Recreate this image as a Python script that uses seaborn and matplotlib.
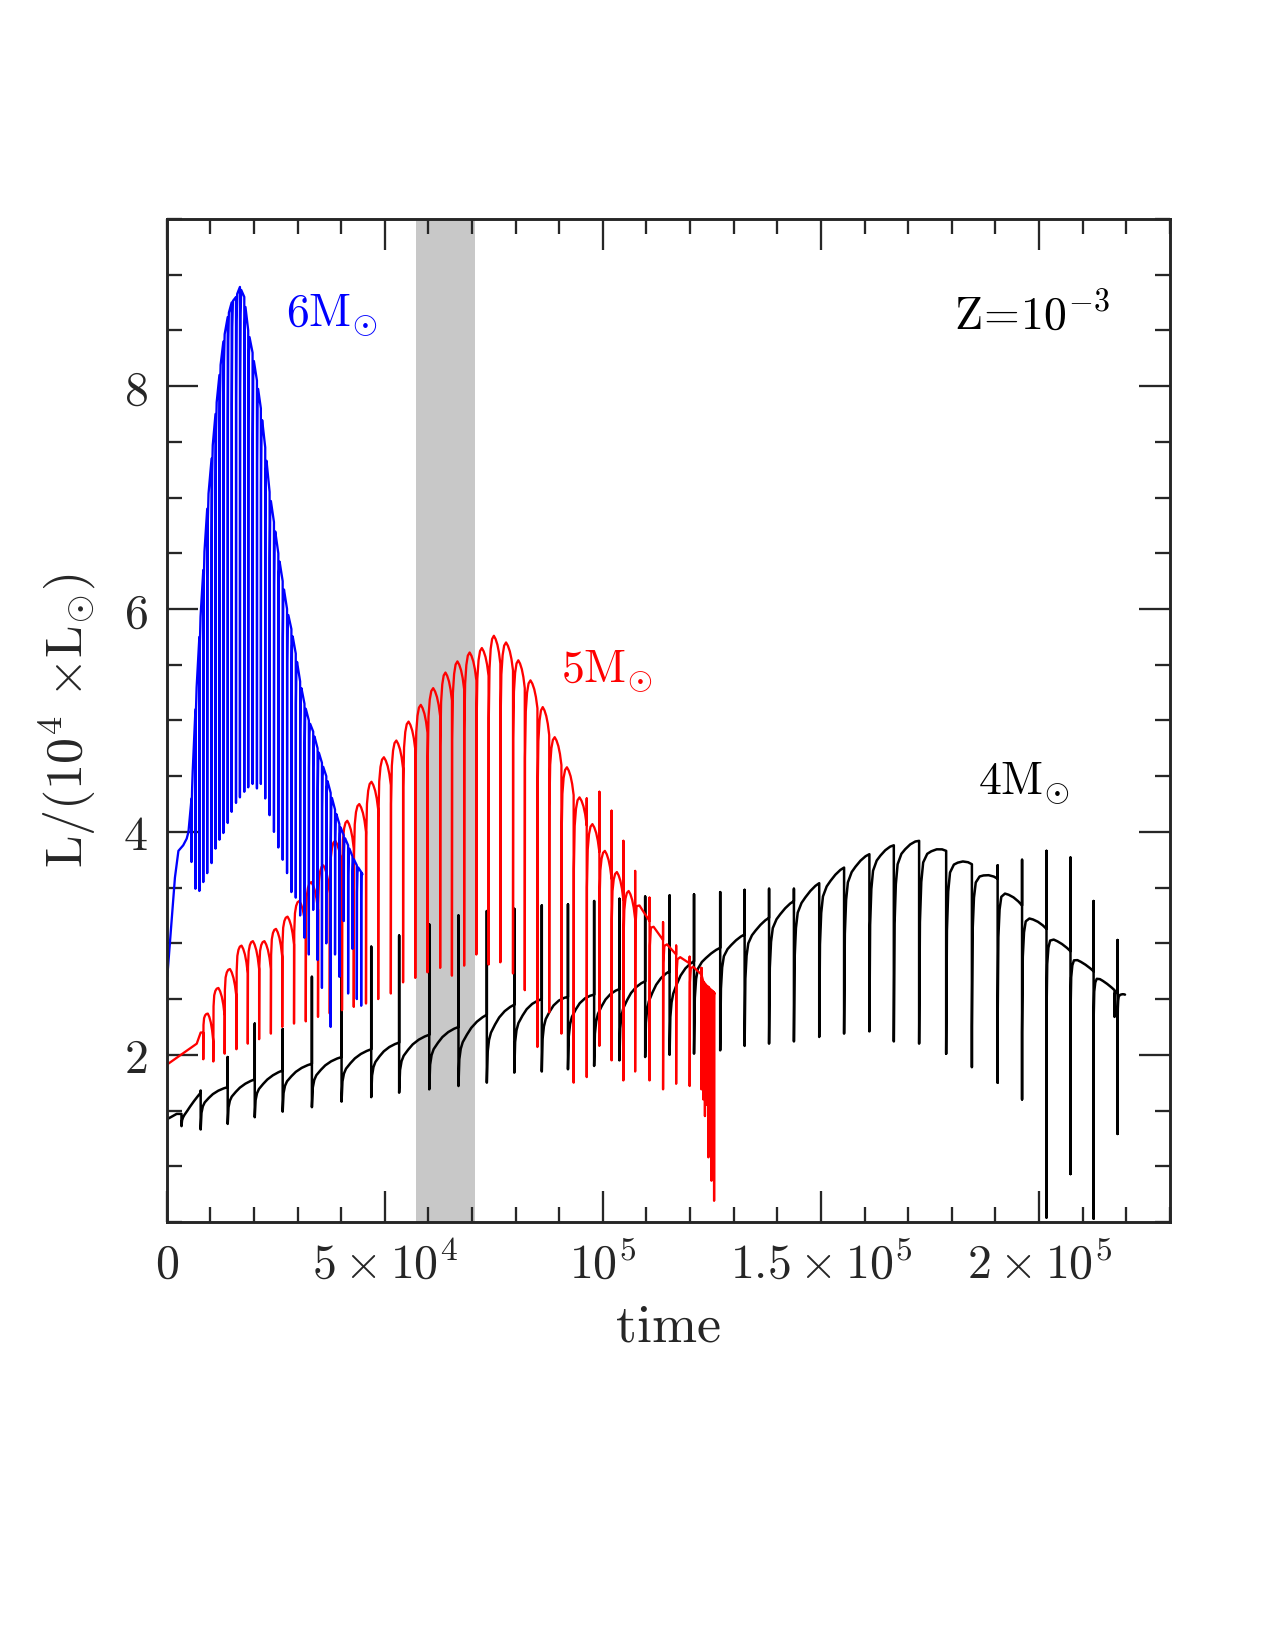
import numpy as np
import seaborn as sns
import matplotlib.pyplot as plt
from matplotlib.ticker import MultipleLocator

sns.set_style("ticks")
plt.rcParams["mathtext.fontset"] = "cm"
plt.rcParams["font.family"] = ["DejaVu Serif"]

nan = np.nan

# times in 10^3 yr, luminosity in 10^4 Lsun

# --- 6 Msun (blue) ---
blue_lead_t = [0.0, 0.0, 0.15, 1.9, 2.7, 3.8, 4.6, 5.0, 5.7]
blue_lead_L = [0.45, 2.70, 2.70, 3.59, 3.83, 3.88, 3.94, 4.00, 4.30]
blue_t = [5.7, 6.6, 7.5, 8.4, 9.3, 10.3, 11.2, 12.1, 13.0, 14.0, 14.9, 15.9, 16.8, 17.8,
          18.7, 19.7, 20.7, 21.6, 22.6, 23.6, 24.6, 25.6, 26.6, 27.6, 28.6, 29.6, 30.6,
          31.6, 32.6, 33.6, 34.6, 35.6, 36.6, 37.6, 38.6, 39.6, 40.6, 41.6, 42.6, 43.6, 44.6]
blue_top = [4.30, 5.10, 5.75, 6.35, 6.90, 7.35, 7.75, 8.10, 8.40, 8.62, 8.75, 8.80, 8.89, 8.80,
            8.50, 8.30, 8.05, 7.80, 7.45, 7.05, 6.78, 6.50, 6.25, 6.00, 5.82, 5.60, 5.35,
            5.15, 5.00, 4.90, 4.75, 4.62, 4.50, 4.35, 4.20, 4.07, 3.97, 3.88, 3.78, 3.70, 3.64]
blue_dip = [3.73, 3.49, 3.47, 3.55, 3.63, 3.72, 3.85, 3.93, 3.99, 4.08, 4.18, 4.26, 4.31, 4.36,
            4.40, 4.43, 4.39, 4.43, 4.30, 4.15, 4.00, 3.86, 3.75, 3.63, 3.46, 3.41, 3.25,
            3.05, 2.90, 3.30, 2.85, 2.60, 3.00, 2.25, 2.90, 2.70, 3.20, 2.55, 2.95, 2.50, 2.44]
blue_end_t, blue_end_L = 44.9, 3.62
blue_phase = [0.0, 0.05, 0.15, 0.3, 1.0]
blue_rec = [0.0, 0.8, 0.95, 1.0, 1.0]

# --- 5 Msun (red): arch phase ---
red_lead_t = [0.0, 0.0, 6.9, 7.8, 8.4]
red_lead_L = [1.10, 1.91, 2.10, 2.20, 2.20]
red_t = [8.4, 10.7, 13.3, 16.0, 18.6, 21.2, 23.9, 26.5, 29.2, 31.9, 34.7, 37.4, 40.2, 42.9,
         45.7, 48.5, 51.4, 54.2, 57.0, 59.8, 62.7, 65.4, 68.2, 71.0, 73.8, 76.5, 79.4, 82.1,
         85.0, 87.7, 90.5, 93.3, 96.3, 99.2, 102.0, 104.7]
red_peak = [2.37, 2.60, 2.77, 2.98, 3.02, 3.02, 3.13, 3.24, 3.38, 3.55, 3.70, 3.92, 4.10, 4.25,
            4.45, 4.67, 4.82, 4.99, 5.14, 5.29, 5.43, 5.53, 5.61, 5.65, 5.76, 5.70, 5.54, 5.36,
            5.12, 4.85, 4.58, 4.31, 4.07, 3.83, 3.64, 3.47]
red_dip = [1.96, 1.94, 2.01, 2.05, 2.10, 2.14, 2.19, 2.25, 2.28, 2.30, 2.34, 2.37, 2.40, 2.43,
           2.46, 2.50, 2.55, 2.65, 2.69, 2.74, 2.78, 2.71, 2.80, 2.90, 2.81, 2.83, 2.73, 2.58,
           2.07, 2.38, 2.19, 1.75, 1.80, 2.08, 1.95, 1.77]
red_spike = [nan] * 32 + [4.30, 4.36, 4.19, 3.92]
red_arch_phase = [0.0, 0.02, 0.08, 0.18, 0.3, 0.45, 0.6, 0.75, 0.88, 0.97, 1.0]
red_arch_rec = [0.0, 0.75, 0.9, 0.96, 0.99, 1.0, 1.0, 1.0, 1.0, 1.0, 1.0]
red_arch_sag = [0.0, 0.0, 0.0, 0.0, 0.0, 0.0, 0.03, 0.08, 0.15, 0.22, 0.25]

# --- 5 Msun (red): declining phase ---
red2_t = [107.4, 110.7, 113.8, 116.8, 119.9, 122.6, 123.0, 123.4, 123.8, 124.2, 124.6,
          124.9, 125.2, 125.5]
red2_top = [3.40, 3.20, 3.03, 2.90, 2.82, 2.72, 2.66, 2.64, 2.62, 2.61, 2.59, 2.58, 2.57, 2.56]
red2_spike = [3.65, 3.41, 3.19, 2.98, 2.88, 2.78, nan, nan, nan, nan, nan, nan, nan, nan]
red2_dip = [1.85, 1.77, 1.69, 1.74, 1.72, 1.69, 1.60, 1.45, 1.55, 1.08, 1.35, 0.87, 1.25, 0.69]
red2_end_t, red2_end_L = 125.6, 2.55
red2_phase = [0.0, 0.03, 0.1, 0.3, 1.0]
red2_rec = [0.0, 0.85, 0.97, 1.0, 1.0]

# --- 4 Msun (black) ---
black_lead_t = [0.0, 0.0, 2.3, 3.4]
black_lead_L = [0.50, 1.42, 1.47, 1.47]
black_t = [3.4, 7.8, 14.0, 20.2, 26.6, 33.3, 40.1, 46.9, 53.3, 60.2, 66.9, 73.4, 79.7, 86.0,
           92.0, 98.0, 103.8, 109.7, 115.3, 120.9, 126.9, 132.5, 138.1, 143.8, 149.6, 155.3,
           161.1, 166.7, 172.5, 178.7, 184.6, 190.5, 196.1, 201.7, 207.2, 212.5, 217.3, 218.0]
black_top = [1.47, 1.66, 1.71, 1.78, 1.86, 1.92, 1.98, 2.05, 2.11, 2.18, 2.25, 2.36, 2.45, 2.50,
             2.52, 2.54, 2.59, 2.66, 2.75, 2.84, 2.96, 3.08, 3.23, 3.38, 3.54, 3.68,
             3.80, 3.88, 3.92, 3.83, 3.71, 3.58, 3.34, 3.13, 2.93, 2.75, 2.58, 2.56]
black_spike = [nan, 1.68, 1.98, 2.28, 2.23, 2.70, 2.85, 2.97, 3.07, 3.17, 3.25, 3.29, 3.31, 3.34,
               3.35, 3.38, 3.40, 3.42, 3.43, 3.44, 3.46, 3.48, 3.49, 3.49, nan, nan,
               nan, nan, nan, nan, nan, 3.70, 3.75, 3.83, 3.77, 3.38, nan, 3.03]
black_dip = [1.36, 1.33, 1.38, 1.44, 1.49, 1.53, 1.58, 1.62, 1.66, 1.69, 1.72, 1.75, 1.84, 1.85,
             1.87, 1.90, 1.95, 1.98, 2.00, 2.01, 2.04, 2.08, 2.10, 2.12, 2.16, 2.19,
             2.21, 2.12, 2.10, 2.01, 1.89, 1.75, 1.60, 0.54, 0.93, 0.53, 2.34, 1.29]
# level the recovery starts from (the deep late dips are thin needles)
black_trough = [1.36, 1.33, 1.38, 1.44, 1.49, 1.53, 1.58, 1.62, 1.66, 1.69, 1.72, 1.75, 1.84, 1.85,
                1.87, 1.90, 1.95, 1.98, 2.00, 2.01, 2.04, 2.08, 2.10, 2.12, 2.16, 2.19,
                2.21, 2.12, 2.10, 2.05, 2.25, 2.28, 2.20, 2.35, 2.35, 2.30, 2.34, 2.20]
black_end_t, black_end_L = 219.7, 2.54
black_phase = [0.0, 0.03, 0.08, 0.15, 0.3, 0.45, 0.65, 0.85, 1.0]
black_rec_early = [0.0, 0.45, 0.62, 0.72, 0.82, 0.9, 0.96, 0.99, 1.0]
black_rec_late = [0.0, 0.6, 0.8, 0.9, 0.95, 0.97, 0.99, 1.0, 1.0]
black_split = 19  # first pulse with the fast recovery (t = 120.9)

band = (57.2, 70.6)


def pulse_track(t_pulse, lvl_a, lvl_b, dip, spike, t_stop, phase, rec, sag=None, trough=None):
    """Build a pulse-by-pulse track: drop to the dip at each pulse, then recover."""
    if sag is None:
        sag = [0.0] * len(phase)
    if trough is None:
        trough = dip
    xs, ys = [], []
    for i, t0 in enumerate(t_pulse):
        t1 = t_pulse[i + 1] if i + 1 < len(t_pulse) else t_stop
        if spike is not None and not np.isnan(spike[i]):
            xs.append(t0)
            ys.append(spike[i])
        xs.append(t0)
        ys.append(dip[i])
        for p, r, s in zip(phase, rec, sag):
            base = lvl_a[i] + (lvl_b[i] - lvl_a[i]) * p - s
            xs.append(t0 + p * (t1 - t0))
            ys.append(trough[i] + (base - trough[i]) * r)
    return xs, ys


# assemble the tracks
bx, by = pulse_track(blue_t, blue_top, blue_top[1:] + [blue_end_L], blue_dip, None,
                     blue_end_t, blue_phase, blue_rec)
blue_x = blue_lead_t + bx
blue_y = blue_lead_L + by

rx1, ry1 = pulse_track(red_t, red_peak, red_peak, red_dip, red_spike, red2_t[0],
                       red_arch_phase, red_arch_rec, red_arch_sag)
rx2, ry2 = pulse_track(red2_t, red2_top, red2_top[1:] + [red2_end_L], red2_dip, red2_spike,
                       red2_end_t, red2_phase, red2_rec)
red_x = red_lead_t + rx1 + rx2
red_y = red_lead_L + ry1 + ry2

k = black_split
black_next = black_top[1:] + [black_end_L]
kx1, ky1 = pulse_track(black_t[:k], black_top[:k], black_next[:k], black_dip[:k], black_spike[:k],
                       black_t[k], black_phase, black_rec_early, trough=black_trough[:k])
kx2, ky2 = pulse_track(black_t[k:], black_top[k:], black_next[k:], black_dip[k:], black_spike[k:],
                       black_end_t, black_phase, black_rec_late, trough=black_trough[k:])
black_x = black_lead_t + kx1 + kx2
black_y = black_lead_L + ky1 + ky2

# figure
fig = plt.figure(figsize=(8.5, 11), dpi=150)
ax = fig.add_axes([0.1307, 0.2594, 0.7869, 0.6079])

ax.axvspan(band[0] * 1e3, band[1] * 1e3, color="#c8c8c8", lw=0, zorder=0)

for x, y, c, w in [(black_x, black_y, "black", 1.2), (red_x, red_y, "red", 1.1),
                   (blue_x, blue_y, "blue", 1.1)]:
    sns.lineplot(x=np.array(x) * 1e3, y=np.array(y), sort=False, estimator=None,
                 color=c, lw=w, legend=False, ax=ax)

ax.set_xlim(0, 2.3e5)
ax.set_ylim(0.5, 9.5)

ax.set_xticks([0, 5e4, 1e5, 1.5e5, 2e5])
ax.set_xticklabels([r"$0$", r"$5\times10^{4}$", r"$10^{5}$", r"$1.5\times10^{5}$", r"$2\times10^{5}$"])
ax.set_yticks([2, 4, 6, 8])
ax.set_yticklabels([r"$2$", r"$4$", r"$6$", r"$8$"])
ax.xaxis.set_minor_locator(MultipleLocator(1e4))
ax.yaxis.set_minor_locator(MultipleLocator(0.5))
ax.tick_params(which="both", direction="in", top=True, right=True, width=1.1, labelsize=23)
ax.tick_params(which="major", length=15, pad=9)
ax.tick_params(which="minor", length=7.2)
for sp in ax.spines.values():
    sp.set_linewidth(1.4)

ax.set_xlabel(r"$\mathrm{time}$", fontsize=26, labelpad=6)
ax.set_ylabel(r"$\mathrm{L/(10^{4}\ {\times}L_{\odot})}$", fontsize=25, labelpad=12)

ax.text(27.4e3, 8.63, r"$\mathrm{6M_{\odot}}$", color="blue", fontsize=22, ha="left", va="center")
ax.text(90.4e3, 5.44, r"$\mathrm{5M_{\odot}}$", color="red", fontsize=22, ha="left", va="center")
ax.text(185.9e3, 4.43, r"$\mathrm{4M_{\odot}}$", color="black", fontsize=22, ha="left", va="center")
ax.text(180.6e3, 8.63, r"$\mathrm{Z}\!=\!\mathrm{10^{-3}}$", color="black", fontsize=22,
        ha="left", va="center")

fig.savefig("out.png", dpi=150)
